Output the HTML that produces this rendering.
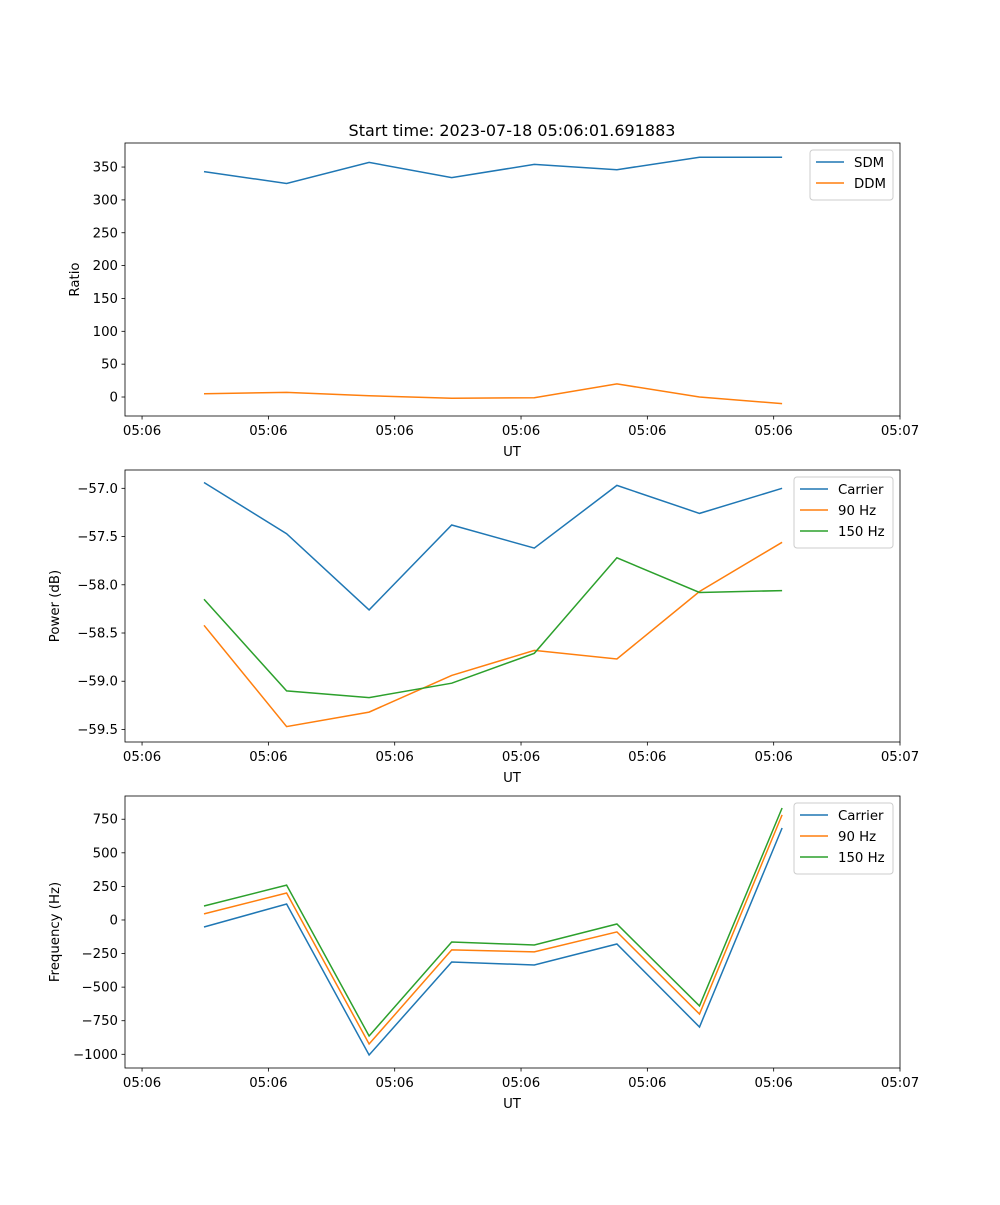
<!DOCTYPE html>
<html><head><meta charset="utf-8"><style>
body{margin:0;background:#fff}
svg text{font-family:"DejaVu Sans","Liberation Sans",sans-serif;font-size:13.3px;fill:#000}
</style></head><body>
<svg id="fig" width="1000" height="1200" xmlns="http://www.w3.org/2000/svg">
<rect width="1000" height="1200" fill="#fff"/>
<text x="512" y="136" text-anchor="middle" style="font-size:16px">Start time: 2023-07-18 05:06:01.691883</text>
</svg>
<script>
const times=[4.9,11.44,17.97,24.51,31.05,37.59,44.13,50.67];
const xTicks=[0,10,20,30,40,50,60];
const xTickLabels=["05:06","05:06","05:06","05:06","05:06","05:06","05:07"];
const sdm=[343,325,357,334,354,346,365,365];
const ddm=[5,7,2,-2,-1,20,0,-10];
const pCarrier=[-56.94,-57.47,-58.26,-57.38,-57.62,-56.97,-57.26,-57.0];
const p90=[-58.42,-59.47,-59.32,-58.94,-58.68,-58.77,-58.07,-57.56];
const p150=[-58.15,-59.1,-59.17,-59.02,-58.71,-57.72,-58.08,-58.06];
const fCarrier=[-52,119,-1005,-313,-335,-179,-797,685];
const f90=[45,201,-923,-223,-238,-89,-700,782];
const f150=[104,260,-864,-164,-186,-30,-640,834];
const yTicks1=[0,50,100,150,200,250,300,350];
const yTicks2=[-59.5,-59.0,-58.5,-58.0,-57.5,-57.0];
const yTicks3=[-1000,-750,-500,-250,0,250,500,750];
const C=["#1f77b4","#ff7f0e","#2ca02c"];
const svg=document.getElementById('fig');
const NS="http://www.w3.org/2000/svg";
function mk(t,a,p){const e=document.createElementNS(NS,t);for(const k in a)e.setAttribute(k,a[k]);(p||svg).appendChild(e);return e;}
const L=125,R=900,xMin=-1.35,xMax=60;
const xs=v=>L+(v-xMin)/(xMax-xMin)*(R-L);
function panel(name,top,bot,yMin,yMax,ticks,fmt,ylabel,series,legend){
  const g=mk('g',{});
  
  
  const ys=v=>bot-(v-yMin)/(yMax-yMin)*(bot-top);
  series.forEach((s,i)=>{
    const pts=s.vals.map((v,j)=>xs(times[j]).toFixed(1)+','+ys(v).toFixed(1)).join(' ');
    const pl=mk('polyline',{points:pts,fill:'none',stroke:C[i],'stroke-width':1.5},g);
    
    
  });
  mk('rect',{x:L,y:top,width:R-L,height:bot-top,fill:'none',stroke:'#000','stroke-width':0.8},g);
  xTicks.forEach((t,i)=>{const x=xs(t);mk('line',{x1:x,x2:x,y1:bot,y2:bot+3.5,stroke:'#000','stroke-width':0.8},g);
    const tx=mk('text',{x:x,y:bot+19,'text-anchor':'middle'},g);tx.textContent=xTickLabels[i];
    });
  ticks.forEach(t=>{const y=ys(t);mk('line',{x1:L-3.5,x2:L,y1:y,y2:y,stroke:'#000','stroke-width':0.8},g);
    const tx=mk('text',{x:L-7,y:y+4.5,'text-anchor':'end'},g);tx.textContent=fmt(t);
    });
  const xl=mk('text',{x:512,y:bot+40,'text-anchor':'middle'},g);xl.textContent='UT';
  
  const yx=L-(ylabel==='Ratio'?46:66),ym=(top+bot)/2;
  const yl=mk('text',{x:yx,y:ym,'text-anchor':'middle',transform:`rotate(-90 ${yx} ${ym})`},g);yl.textContent=ylabel;
  
  const lw=legend.w,lx=R-7-lw,ly=top+7,lh=8+21*series.length;
  const lg=mk('g',{},g);
  
  
  mk('rect',{x:lx,y:ly,width:lw,height:lh,rx:3,fill:'#fff','fill-opacity':0.8,stroke:'#ccc'},lg);
  series.forEach((s,i)=>{const y=ly+12+21*i;
    mk('line',{x1:lx+6,x2:lx+34,y1:y,y2:y,stroke:C[i],'stroke-width':1.5},lg);
    const t=mk('text',{x:lx+44,y:y+5},lg);t.textContent=s.label;
    });
}
panel('ratio',143,416,-28.9,386.6,yTicks1,v=>v<0?'\u2212'+(-v):String(v),'Ratio',
  [{key:'sdm',label:'SDM',vals:sdm},{key:'ddm',label:'DDM',vals:ddm}],{w:83});
panel('power',470,742,-59.63,-56.81,yTicks2,v=>'\u2212'+(-v).toFixed(1),'Power (dB)',
  [{key:'carrier',label:'Carrier',vals:pCarrier},{key:'90hz',label:'90 Hz',vals:p90},{key:'150hz',label:'150 Hz',vals:p150}],{w:99});
panel('frequency',796,1068,-1102,923,yTicks3,v=>v<0?'\u2212'+(-v):String(v),'Frequency (Hz)',
  [{key:'carrier',label:'Carrier',vals:fCarrier},{key:'90hz',label:'90 Hz',vals:f90},{key:'150hz',label:'150 Hz',vals:f150}],{w:99});
</script>
</body></html>
